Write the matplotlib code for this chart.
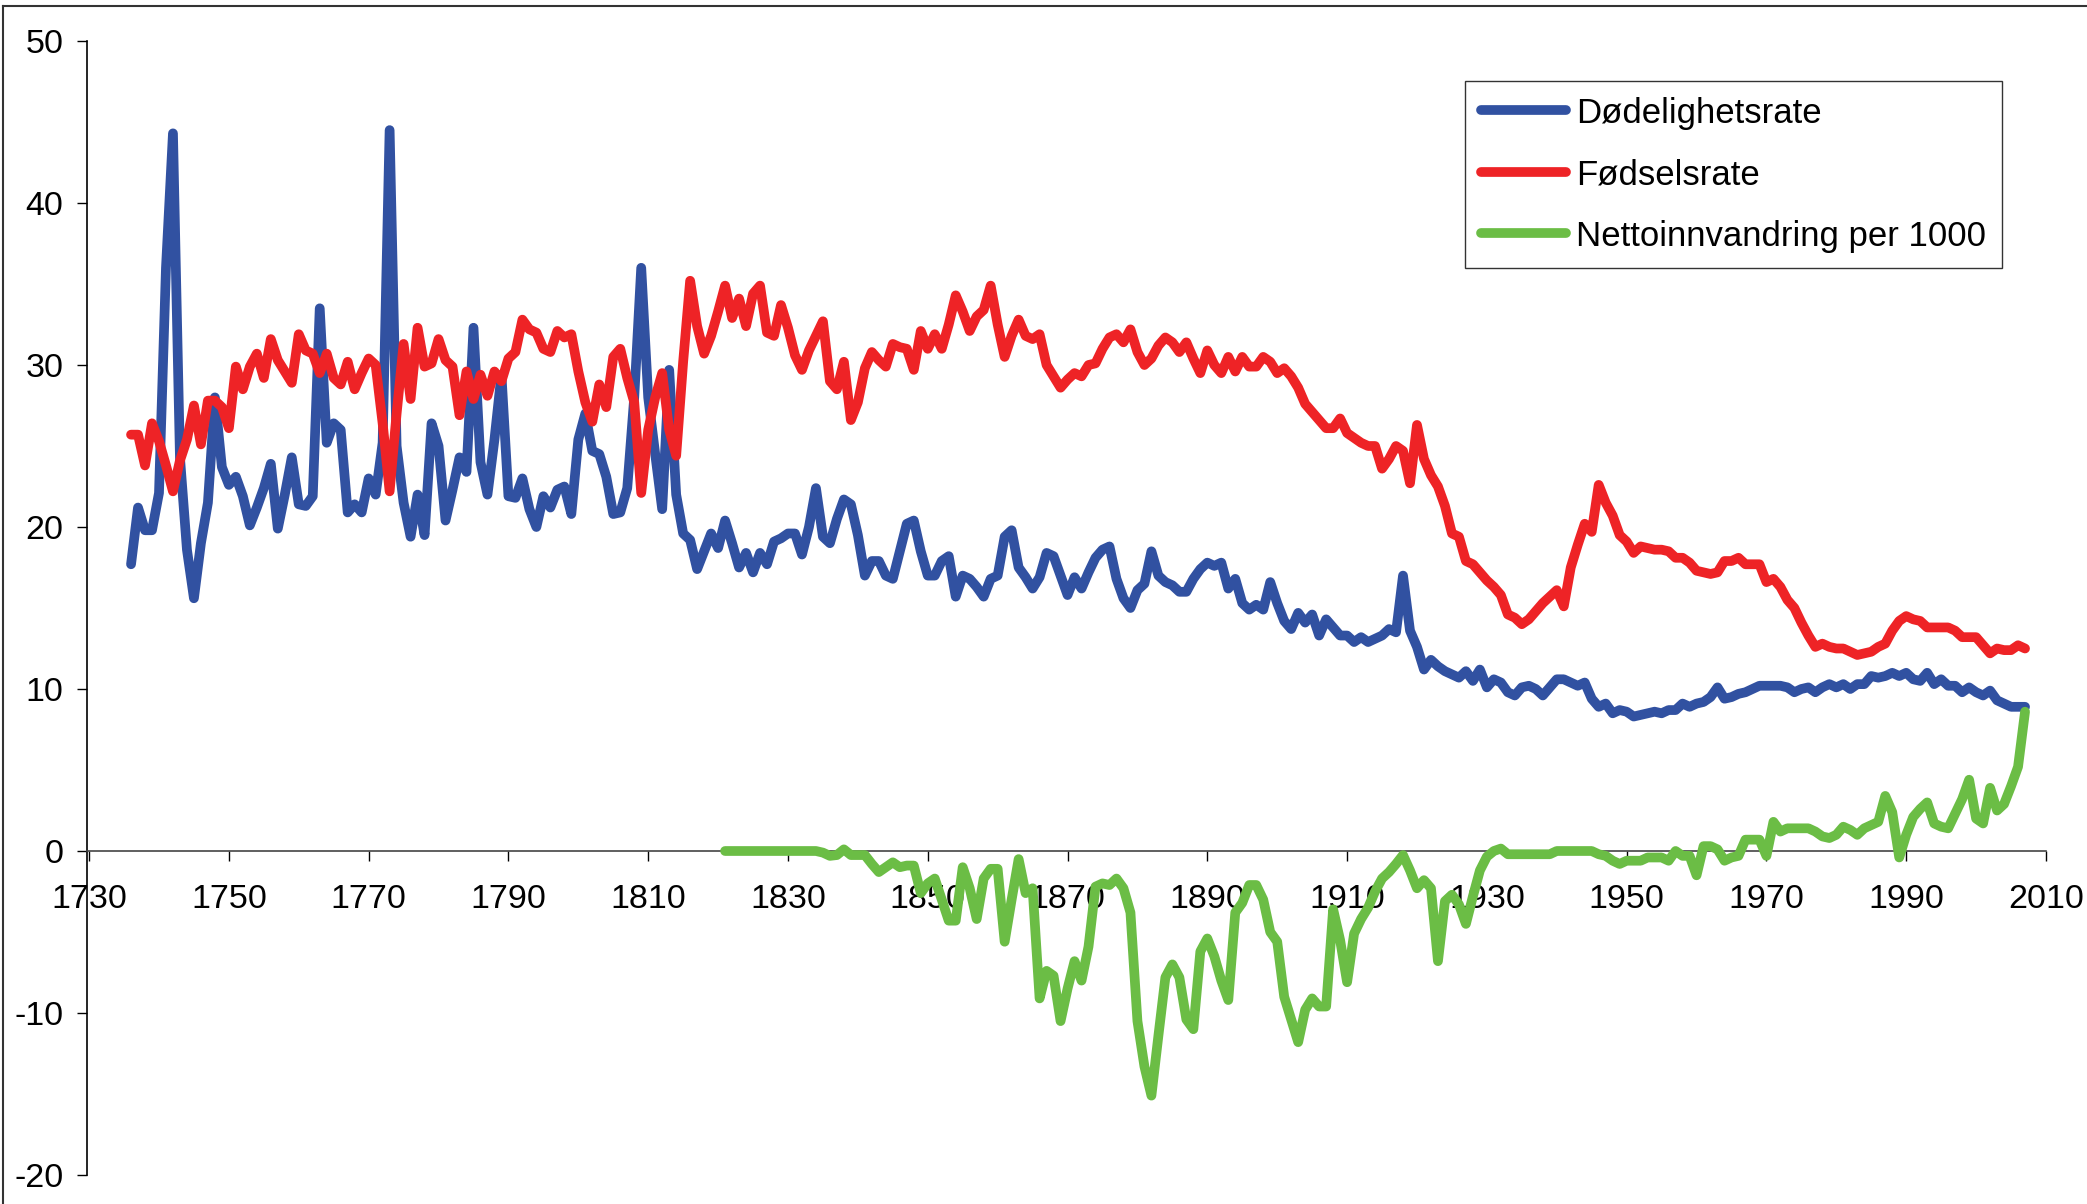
import numpy as np
import matplotlib
matplotlib.use("Agg")
from matplotlib import pyplot as plt
from matplotlib.lines import Line2D

# dødelighetsrate (per 1000), ett tall per år, fra 1736
dod_1730 = [17.7, 21.2, 19.8, 19.8]
dod_1740 = [22.1, 36.0, 44.3, 24.3, 18.6, 15.6, 19.0, 21.5, 28.0, 23.7]
dod_1750 = [22.6, 23.1, 21.9, 20.1, 21.2, 22.4, 23.9, 19.9, 22.0, 24.3]
dod_1760 = [21.4, 21.3, 21.9, 33.5, 25.2, 26.4, 26.0, 20.9, 21.4, 20.9]
dod_1770 = [23.0, 22.0, 25.2, 44.5, 25.0, 21.5, 19.4, 22.0, 19.5, 26.4]
dod_1780 = [25.0, 20.4, 22.3, 24.3, 23.4, 32.3, 24.0, 22.0, 25.4, 29.4]
dod_1790 = [21.9, 21.8, 23.0, 21.1, 20.0, 21.9, 21.2, 22.3, 22.5, 20.8]
dod_1800 = [25.4, 27.0, 24.7, 24.5, 23.1, 20.8, 20.9, 22.4, 28.0, 36.0]
dod_1810 = [28.0, 24.5, 21.1, 29.7, 22.0, 19.6, 19.2, 17.4, 18.5, 19.6]
dod_1820 = [18.7, 20.4, 19.0, 17.5, 18.4, 17.2, 18.4, 17.7, 19.1, 19.3]
dod_1830 = [19.6, 19.6, 18.3, 20.0, 22.4, 19.4, 19.0, 20.5, 21.7, 21.4]
dod_1840 = [19.5, 17.0, 17.9, 17.9, 17.0, 16.8, 18.5, 20.2, 20.4, 18.5]
dod_1850 = [17.0, 17.0, 17.9, 18.2, 15.7, 17.0, 16.8, 16.3, 15.7, 16.8]
dod_1860 = [17.0, 19.4, 19.8, 17.5, 16.9, 16.2, 16.9, 18.4, 18.2, 17.0]
dod_1870 = [15.8, 16.9, 16.2, 17.2, 18.1, 18.6, 18.8, 16.8, 15.6, 15.0]
dod_1880 = [16.1, 16.5, 18.5, 17.0, 16.6, 16.4, 16.0, 16.0, 16.8, 17.4]
dod_1890 = [17.8, 17.6, 17.8, 16.2, 16.8, 15.3, 14.9, 15.2, 14.9, 16.6]
dod_1900 = [15.3, 14.2, 13.7, 14.7, 14.1, 14.6, 13.3, 14.3, 13.8, 13.3]
dod_1910 = [13.3, 12.9, 13.2, 12.9, 13.1, 13.3, 13.7, 13.5, 17.0, 13.6]
dod_1920 = [12.6, 11.2, 11.8, 11.4, 11.1, 10.9, 10.7, 11.1, 10.5, 11.2]
dod_1930 = [10.1, 10.6, 10.4, 9.8, 9.6, 10.1, 10.2, 10.0, 9.6, 10.1]
dod_1940 = [10.6, 10.6, 10.4, 10.2, 10.4, 9.4, 8.9, 9.1, 8.5, 8.7]
dod_1950 = [8.6, 8.3, 8.4, 8.5, 8.6, 8.5, 8.7, 8.7, 9.1, 8.9]
dod_1960 = [9.1, 9.2, 9.5, 10.1, 9.4, 9.5, 9.7, 9.8, 10.0, 10.2]
dod_1970 = [10.2, 10.2, 10.2, 10.1, 9.8, 10.0, 10.1, 9.8, 10.1, 10.3]
dod_1980 = [10.1, 10.3, 10.0, 10.3, 10.3, 10.8, 10.7, 10.8, 11.0, 10.8]
dod_1990 = [11.0, 10.6, 10.5, 11.0, 10.3, 10.6, 10.2, 10.2, 9.8, 10.1]
dod_2000 = [9.8, 9.6, 9.9, 9.3, 9.1, 8.9, 8.9, 8.9]

# fødselsrate (per 1000), fra 1736
fod_1730 = [25.7, 25.7, 23.8, 26.4]
fod_1740 = [25.3, 23.8, 22.2, 24.1, 25.4, 27.5, 25.1, 27.8, 27.8, 27.4]
fod_1750 = [26.1, 29.9, 28.5, 29.9, 30.7, 29.2, 31.6, 30.3, 29.6, 28.9]
fod_1760 = [31.9, 30.9, 30.7, 29.5, 30.7, 29.2, 28.8, 30.2, 28.5, 29.5]
fod_1770 = [30.4, 30.0, 26.4, 22.2, 27.0, 31.3, 27.9, 32.3, 29.9, 30.1]
fod_1780 = [31.6, 30.3, 29.9, 26.9, 29.6, 27.9, 29.4, 28.1, 29.6, 29.0]
fod_1790 = [30.4, 30.8, 32.8, 32.2, 32.0, 31.0, 30.8, 32.1, 31.7, 31.9]
fod_1800 = [29.6, 27.7, 26.5, 28.8, 27.4, 30.5, 31.0, 29.2, 27.7, 22.1]
fod_1810 = [26.0, 28.0, 29.5, 26.0, 24.4, 30.2, 35.2, 32.4, 30.7, 31.8]
fod_1820 = [33.3, 34.9, 32.9, 34.1, 32.4, 34.4, 34.9, 32.0, 31.8, 33.7]
fod_1830 = [32.3, 30.6, 29.7, 30.9, 31.8, 32.7, 29.0, 28.5, 30.2, 26.6]
fod_1840 = [27.7, 29.8, 30.8, 30.3, 29.9, 31.3, 31.1, 31.0, 29.7, 32.1]
fod_1850 = [31.0, 31.9, 31.0, 32.5, 34.3, 33.3, 32.1, 33.0, 33.4, 34.9]
fod_1860 = [32.5, 30.5, 31.8, 32.8, 31.8, 31.6, 31.9, 30.0, 29.3, 28.6]
fod_1870 = [29.1, 29.5, 29.3, 30.0, 30.1, 31.0, 31.7, 31.9, 31.4, 32.2]
fod_1880 = [30.8, 30.0, 30.4, 31.2, 31.7, 31.4, 30.8, 31.4, 30.4, 29.5]
fod_1890 = [30.9, 30.0, 29.5, 30.5, 29.6, 30.5, 29.9, 29.9, 30.5, 30.2]
fod_1900 = [29.5, 29.8, 29.3, 28.6, 27.6, 27.1, 26.6, 26.1, 26.1, 26.7]
fod_1910 = [25.8, 25.5, 25.2, 25.0, 25.0, 23.6, 24.2, 25.0, 24.7, 22.7]
fod_1920 = [26.3, 24.2, 23.2, 22.5, 21.3, 19.6, 19.4, 17.9, 17.7, 17.2]
fod_1930 = [16.7, 16.3, 15.8, 14.6, 14.4, 14.0, 14.3, 14.8, 15.3, 15.7]
fod_1940 = [16.1, 15.1, 17.5, 18.9, 20.2, 19.7, 22.6, 21.5, 20.7, 19.5]
fod_1950 = [19.1, 18.4, 18.8, 18.7, 18.6, 18.6, 18.5, 18.1, 18.1, 17.8]
fod_1960 = [17.3, 17.2, 17.1, 17.2, 17.9, 17.9, 18.1, 17.7, 17.7, 17.7]
fod_1970 = [16.6, 16.8, 16.3, 15.5, 15.0, 14.1, 13.3, 12.6, 12.8, 12.6]
fod_1980 = [12.5, 12.5, 12.3, 12.1, 12.2, 12.3, 12.6, 12.8, 13.6, 14.2]
fod_1990 = [14.5, 14.3, 14.2, 13.8, 13.8, 13.8, 13.8, 13.6, 13.2, 13.2]
fod_2000 = [13.2, 12.7, 12.2, 12.5, 12.4, 12.4, 12.7, 12.5]

# nettoinnvandring per 1000, fra 1821
net_1820 = [0, 0, 0, 0, 0, 0, 0, 0, 0]
net_1830 = [0, 0, 0, 0, 0, -0.1, -0.3, -0.25, 0.1, -0.25]
net_1840 = [-0.25, -0.25, -0.8, -1.3, -1.0, -0.7, -1.0, -0.9, -0.9, -2.6]
net_1850 = [-2.0, -1.7, -3.0, -4.3, -4.3, -1.0, -2.3, -4.2, -1.7, -1.1]
net_1860 = [-1.1, -5.6, -3.0, -0.5, -2.6, -2.3, -9.1, -7.4, -7.7, -10.5]
net_1870 = [-8.5, -6.8, -8.0, -5.9, -2.2, -2.0, -2.1, -1.7, -2.3, -3.8]
net_1880 = [-10.5, -13.3, -15.1, -11.4, -7.8, -7.0, -7.8, -10.4, -11.0, -6.2]
net_1890 = [-5.4, -6.5, -8.0, -9.2, -3.8, -3.2, -2.1, -2.1, -3.0, -5.0]
net_1900 = [-5.6, -9.0, -10.4, -11.8, -9.8, -9.1, -9.6, -9.6, -3.6, -5.5]
net_1910 = [-8.1, -5.1, -4.2, -3.5, -2.5, -1.7, -1.3, -0.8, -0.25, -1.2]
net_1920 = [-2.3, -1.8, -2.3, -6.8, -3.1, -2.7, -3.3, -4.5, -2.8, -1.2]
net_1930 = [-0.35, 0.0, 0.15, -0.2, -0.2, -0.2, -0.2, -0.2, -0.2, -0.2]
net_1940 = [0.0, 0.0, 0.0, 0.0, 0.0, 0.0, -0.2, -0.3, -0.6, -0.8]
net_1950 = [-0.6, -0.6, -0.6, -0.4, -0.4, -0.4, -0.6, 0.0, -0.3, -0.3]
net_1960 = [-1.5, 0.3, 0.3, 0.1, -0.6, -0.4, -0.3, 0.7, 0.7, 0.7]
net_1970 = [-0.3, 1.8, 1.2, 1.4, 1.4, 1.4, 1.4, 1.2, 0.9, 0.8]
net_1980 = [1.0, 1.5, 1.3, 1.0, 1.4, 1.6, 1.8, 3.4, 2.4, -0.4]
net_1990 = [1.0, 2.1, 2.6, 3.0, 1.7, 1.5, 1.4, 2.3, 3.2, 4.4]
net_2000 = [2.0, 1.7, 3.9, 2.5, 2.9, 4.0, 5.2, 8.6]

x_ticks = list(range(1730, 2011, 20))
y_ticks = list(range(-20, 51, 10))

dodelighet = np.concatenate([dod_1730, dod_1740, dod_1750, dod_1760, dod_1770,
                             dod_1780, dod_1790, dod_1800, dod_1810, dod_1820,
                             dod_1830, dod_1840, dod_1850, dod_1860, dod_1870,
                             dod_1880, dod_1890, dod_1900, dod_1910, dod_1920,
                             dod_1930, dod_1940, dod_1950, dod_1960, dod_1970,
                             dod_1980, dod_1990, dod_2000])
fodsel = np.concatenate([fod_1730, fod_1740, fod_1750, fod_1760, fod_1770,
                         fod_1780, fod_1790, fod_1800, fod_1810, fod_1820,
                         fod_1830, fod_1840, fod_1850, fod_1860, fod_1870,
                         fod_1880, fod_1890, fod_1900, fod_1910, fod_1920,
                         fod_1930, fod_1940, fod_1950, fod_1960, fod_1970,
                         fod_1980, fod_1990, fod_2000])
netto = np.concatenate([net_1820, net_1830, net_1840, net_1850, net_1860,
                        net_1870, net_1880, net_1890, net_1900, net_1910,
                        net_1920, net_1930, net_1940, net_1950, net_1960,
                        net_1970, net_1980, net_1990, net_2000])

aar = np.arange(1736, 1736 + len(dodelighet))
aar_netto = np.arange(1821, 1821 + len(netto))

plt.rcParams["font.family"] = ["Liberation Sans", "DejaVu Sans"]
plt.rcParams["axes.unicode_minus"] = False

W, H = 2087, 1204
fig = plt.figure(figsize=(W / 100, H / 100), dpi=100)
ax = fig.add_axes([87 / W, 1 - 1175 / H, (2046 - 87) / W, (1175 - 41) / H])

stil = dict(lw=7, solid_capstyle="round", solid_joinstyle="round", zorder=3)
ax.plot(aar, dodelighet, color="#3151a1", label="Dødelighetsrate", **stil)
ax.plot(aar, fodsel, color="#ee2326", label="Fødselsrate", **stil)
ax.plot(aar_netto, netto, color="#6bbd45", label="Nettoinnvandring per 1000", **stil)

ax.set_xlim(1729.7, 2010)
ax.set_ylim(-20, 50)
ax.set_xticks(x_ticks)
ax.set_yticks(y_ticks)
ax.set_xticklabels([str(t) for t in x_ticks])
ax.get_xticklabels()[-1].set_horizontalalignment("right")

for s in ["top", "right"]:
    ax.spines[s].set_visible(False)
ax.spines["bottom"].set_position(("data", 0))
ax.spines["bottom"].set_color("#444444")
ax.spines["left"].set_color("black")
for s in ["bottom", "left"]:
    ax.spines[s].set_linewidth(1.2)
    ax.spines[s].set_zorder(2)

ax.tick_params(axis="both", labelsize=24.5, length=7, width=1.0, direction="out")
ax.tick_params(axis="x", pad=17)
ax.tick_params(axis="y", pad=10)

leg = ax.legend(loc="upper left", bbox_to_anchor=(1465 / W, 1 - 81 / H),
                bbox_transform=fig.transFigure, fontsize=25, frameon=True,
                fancybox=False, edgecolor="black", handlelength=2.45,
                handletextpad=0.3, labelspacing=0.82, borderpad=0.45,
                borderaxespad=0)
leg.get_frame().set_linewidth(1.0)

# rammen rundt hele diagramområdet (bare venstre og øvre kant synlig)
fig.add_artist(Line2D([3 / W, 3 / W], [0, 1 - 6 / H], color="#333333", lw=1.5))
fig.add_artist(Line2D([3 / W, 1], [1 - 6 / H, 1 - 6 / H], color="#333333", lw=1.5))

fig.savefig("out.png", dpi=100)
